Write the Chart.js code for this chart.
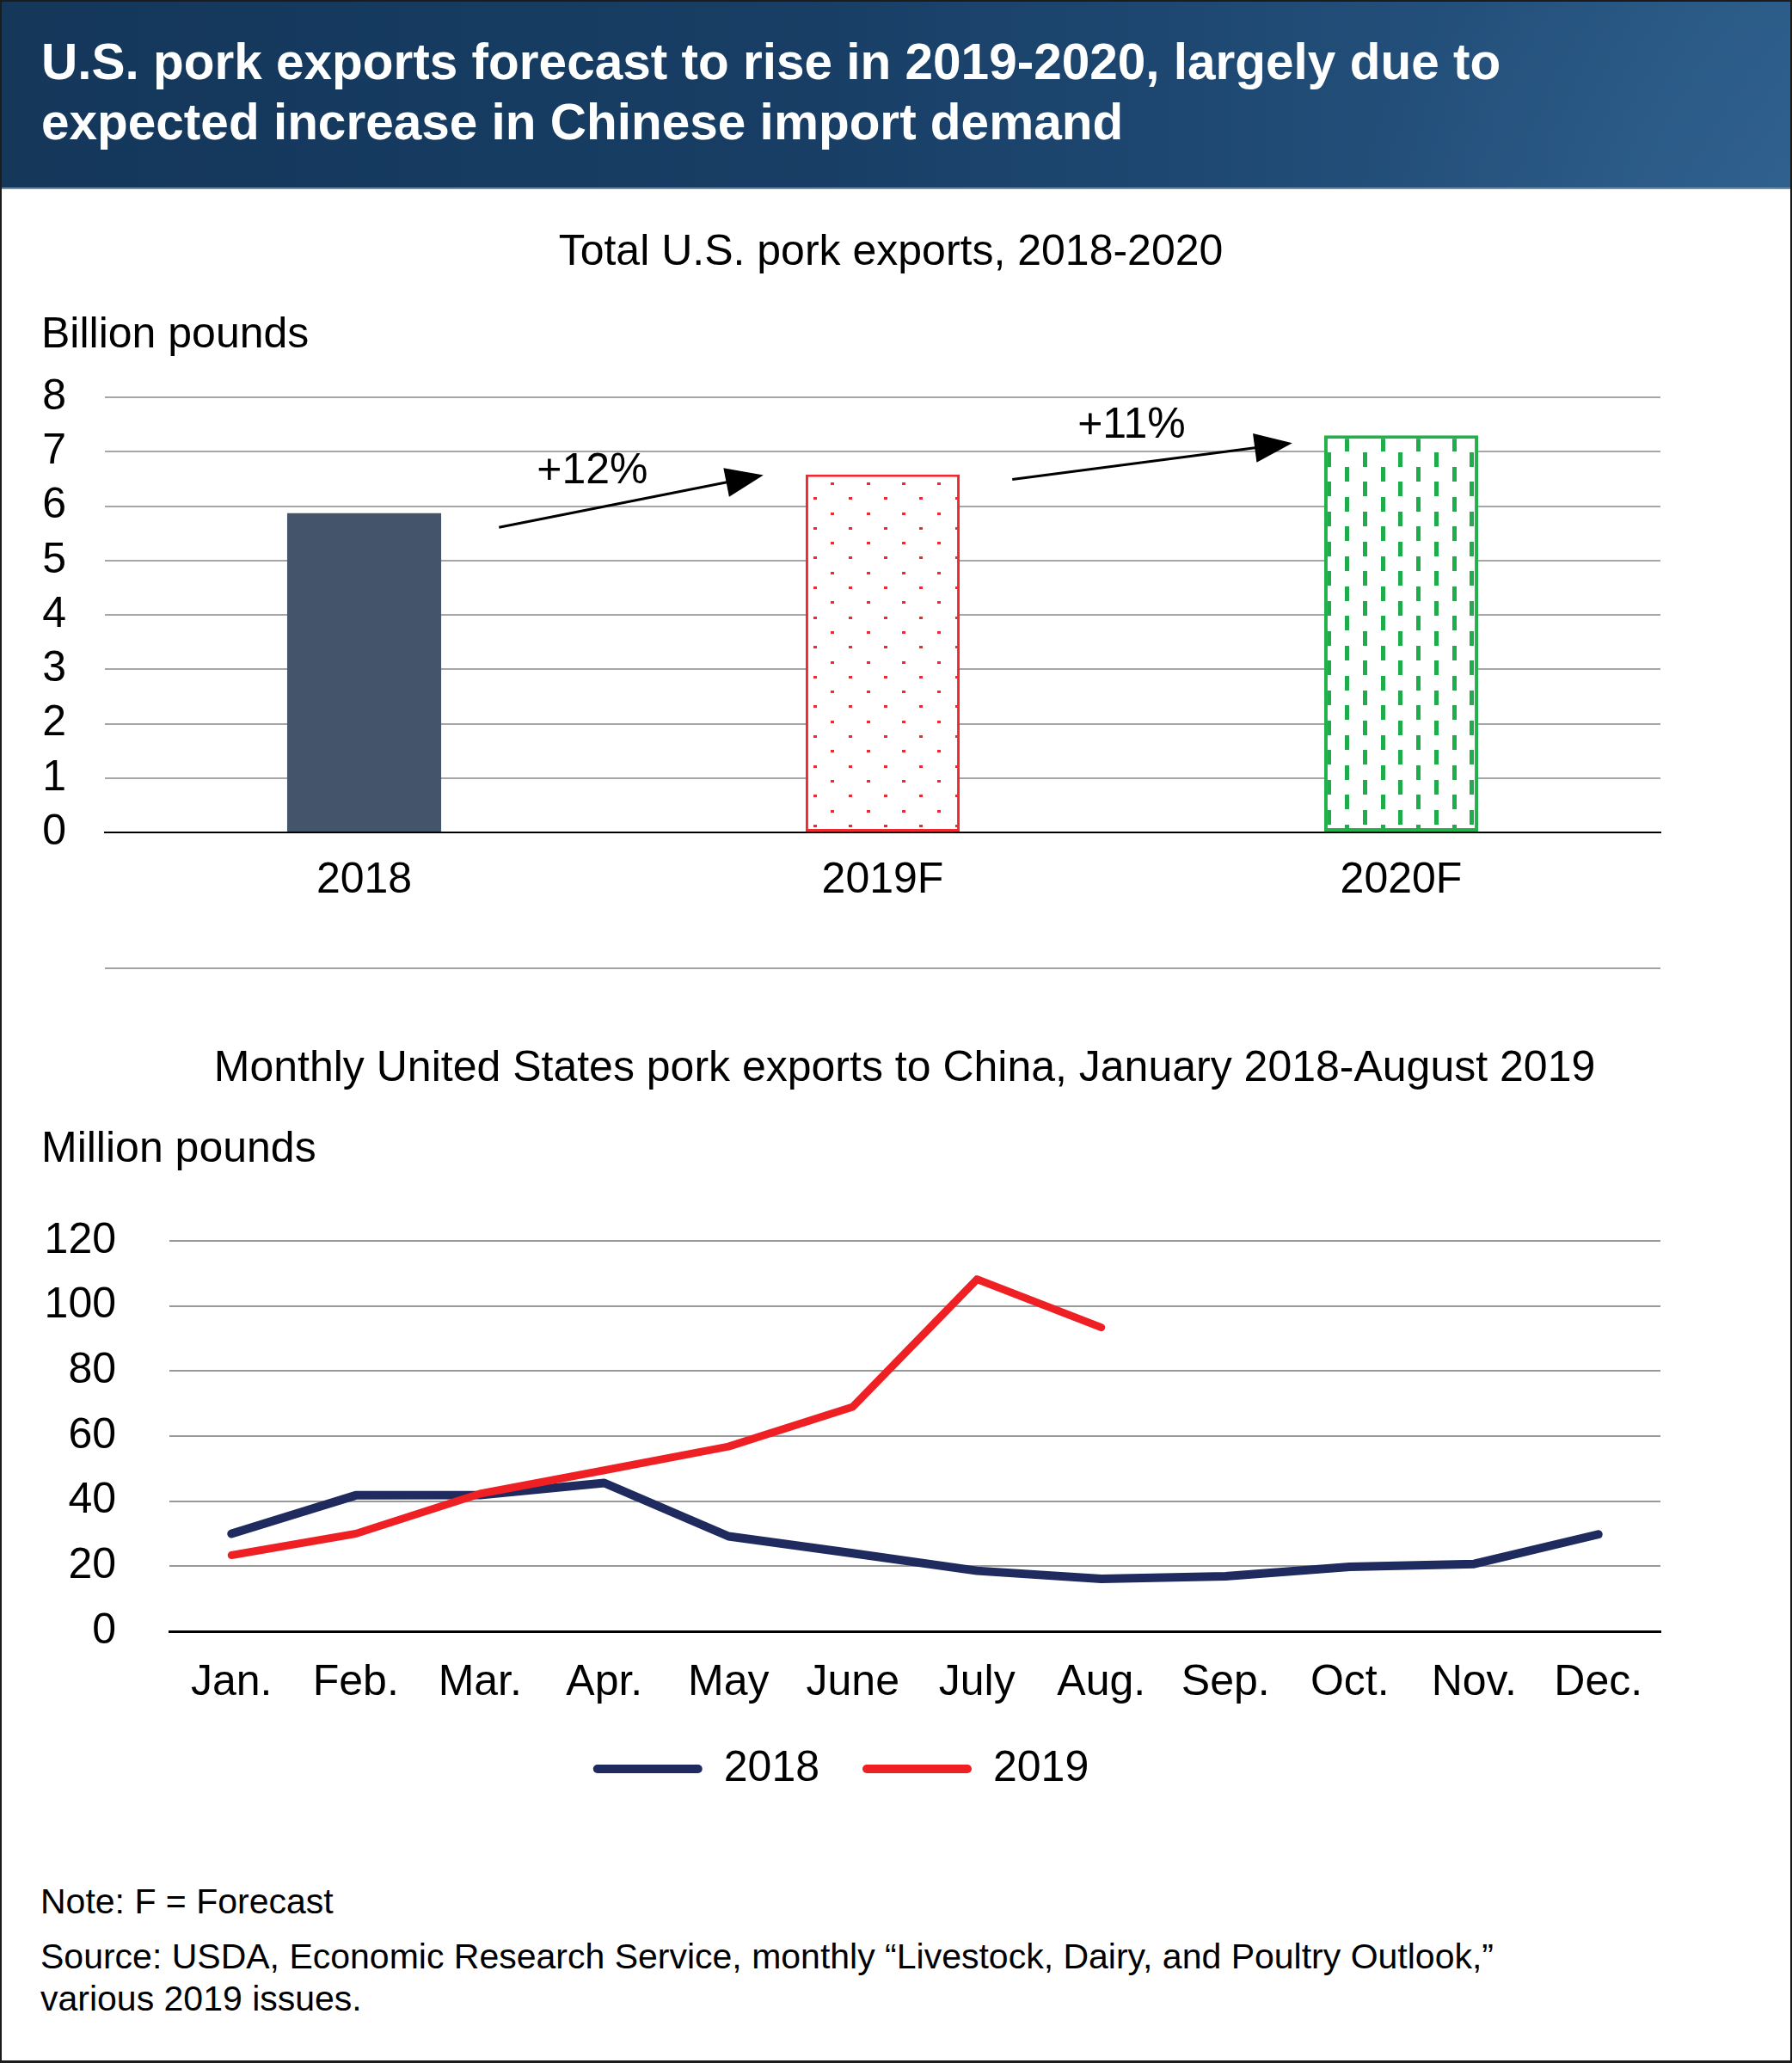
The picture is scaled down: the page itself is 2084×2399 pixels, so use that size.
<!DOCTYPE html>
<html>
<head>
<meta charset="utf-8">
<title>U.S. pork exports</title>
<script src="https://cdn.jsdelivr.net/npm/chart.js@4.4.1/dist/chart.umd.min.js"></script>
<style>
  html, body { margin: 0; padding: 0; background: #fff; }
  #page {
    position: relative; width: 2084px; height: 2399px; overflow: hidden;
    font-family: "Liberation Sans", Arial, Helvetica, sans-serif; color: #000;
  }
  #frame {
    position: absolute; left: 0; top: 0; width: 2084px; height: 2399px;
    box-sizing: border-box; border: 2px solid #1c1c1c; border-bottom-width: 3px;
    pointer-events: none; z-index: 10;
  }
  #header {
    position: absolute; left: 0; top: 0; width: 2084px; height: 218px;
    background:
      radial-gradient(ellipse 820px 620px at 2150px 330px, rgba(70,120,170,0.30), rgba(70,120,170,0) 75%),
      linear-gradient(90deg, #14375a 0%, #183e65 45%, #1f4a74 70%, #2a5a86 100%);
    border-bottom: 2px solid #6f8fb0;
  }
  #header div {
    position: absolute; left: 48px; color: #fff; font-weight: bold;
    font-size: 58.5px; line-height: 70px; white-space: nowrap;
  }
  .txt { position: absolute; white-space: nowrap; font-size: 50px; line-height: 60px; }
  .center { transform: translateX(-50%); }
  .note { position: absolute; left: 47px; white-space: nowrap; font-size: 41px; line-height: 49px; }
  #sep { position: absolute; left: 122px; top: 1125px; width: 1809px; height: 2px; background: #a3a3a3; }
  canvas { position: absolute; left: 0; }
</style>
</head>
<body>
<div id="page">
  <div id="header">
    <div style="top:37px">U.S. pork exports forecast to rise in 2019-2020, largely due to</div>
    <div style="top:107px">expected increase in Chinese import demand</div>
  </div>

  <div class="txt center" style="left:1036px; top:261px">Total U.S. pork exports, 2018-2020</div>
  <div class="txt" style="left:48px; top:357px">Billion pounds</div>
  <canvas id="barChart" width="2084" height="630" style="top:420px; width:2084px; height:630px"></canvas>

  <div id="sep"></div>

  <div class="txt center" style="left:1052px; top:1210px">Monthly United States pork exports to China, January 2018-August 2019</div>
  <div class="txt" style="left:48px; top:1304px">Million pounds</div>
  <canvas id="lineChart" width="1956" height="692" style="top:1400px; width:1956px; height:692px"></canvas>

  <div class="note" style="top:2187px">Note: F = Forecast</div>
  <div class="note" style="top:2251px">Source: USDA, Economic Research Service, monthly “Livestock, Dairy, and Poultry Outlook,”</div>
  <div class="note" style="top:2300px">various 2019 issues.</div>

  <div id="frame"></div>
</div>

<script>
// Total exports, billion pounds
const barCategories = ['2018', '2019F', '2020F'];
const barValues = [5.87, 6.58, 7.30];
const barTicks = [0, 1, 2, 3, 4, 5, 6, 7, 8];
const changeLabels = ['+12%', '+11%'];

// Monthly exports to China, million pounds
const monthLabels = ['Jan.', 'Feb.', 'Mar.', 'Apr.', 'May', 'June', 'July', 'Aug.', 'Sep.', 'Oct.', 'Nov.', 'Dec.'];
const exports2018 = [30.0, 41.8, 41.9, 45.6, 29.2, 24.0, 18.6, 16.1, 16.9, 19.8, 20.7, 29.8];
const exports2019 = [23.4, 30.0, 42.3, 49.5, 56.8, 69.0, 108.2, 93.4];
const lineTicks = [0, 20, 40, 60, 80, 100, 120];

// arrow annotations, in category-index / value units of the bar chart
const arrowSpecs = [
  { from: [0.26, 5.61], to: [0.77, 6.57], label: [0.44, 6.64] },
  { from: [1.25, 6.49], to: [1.79, 7.16], label: [1.48, 7.48] }
];

const FONT = '"Liberation Sans", Arial, Helvetica, sans-serif';
Chart.defaults.font.family = FONT;
Chart.defaults.font.size = 50;
Chart.defaults.color = '#000';

// staggered fill pattern (two marks per period cell)
function staggerPattern(px, py, repsX, repsY, markW, markH, ax, ay, color) {
  const w = Math.round(px * repsX), h = Math.round(py * repsY);
  const c = document.createElement('canvas');
  c.width = w; c.height = h;
  const g = c.getContext('2d');
  g.fillStyle = '#fff';
  g.fillRect(0, 0, w, h);
  g.fillStyle = color;
  for (let i = -1; i <= repsX; i++) {
    for (let j = -1; j <= repsY; j++) {
      [[0, 0], [0.5, 0.5]].forEach(([ox, oy]) => {
        const cx = ax + (i + ox) * px, cy = ay + (j + oy) * py;
        g.fillRect(Math.round(cx - markW / 2), Math.round(cy - markH / 2), markW, markH);
      });
    }
  }
  return g.createPattern(c, 'repeat');
}

const dotFill = staggerPattern(41.2, 34.6, 5, 5, 4, 3, 0.1, 21.3, '#ee2a2f');
const dashFill = staggerPattern(41.5, 34.67, 2, 3, 5, 17, 10.3, 10.3, '#1fad4b');

// fixed axis sizes so the plot areas land where the original has them
function fixY(width) {
  return (scale) => { scale.width = width; scale.paddingTop = 0; scale.paddingBottom = 0; };
}
function fixX(height) {
  return (scale) => { scale.height = height; scale.paddingLeft = 0; scale.paddingRight = 0; };
}

const arrowPlugin = {
  id: 'changeArrows',
  afterDatasetsDraw(chart) {
    const { ctx, scales: { x, y } } = chart;
    ctx.save();
    ctx.strokeStyle = '#000';
    ctx.fillStyle = '#000';
    ctx.lineWidth = 3;
    arrowSpecs.forEach((a, i) => {
      const x0 = x.getPixelForValue(a.from[0]), y0 = y.getPixelForValue(a.from[1]);
      const x1 = x.getPixelForValue(a.to[0]), y1 = y.getPixelForValue(a.to[1]);
      const ang = Math.atan2(y1 - y0, x1 - x0);
      const headLen = 44, headHalf = 17;
      const bx = x1 - headLen * Math.cos(ang), by = y1 - headLen * Math.sin(ang);
      ctx.beginPath();
      ctx.moveTo(x0, y0);
      ctx.lineTo(bx + 2 * Math.cos(ang), by + 2 * Math.sin(ang));
      ctx.stroke();
      ctx.beginPath();
      ctx.moveTo(x1, y1);
      ctx.lineTo(bx + headHalf * Math.sin(ang), by - headHalf * Math.cos(ang));
      ctx.lineTo(bx - headHalf * Math.sin(ang), by + headHalf * Math.cos(ang));
      ctx.closePath();
      ctx.fill();

      ctx.font = '50px ' + FONT;
      ctx.textAlign = 'center';
      ctx.textBaseline = 'middle';
      ctx.fillText(changeLabels[i], x.getPixelForValue(a.label[0]), y.getPixelForValue(a.label[1]));
    });
    ctx.restore();
  }
};

new Chart(document.getElementById('barChart'), {
  type: 'bar',
  data: {
    labels: barCategories,
    datasets: [{
      data: barValues,
      backgroundColor: ['#44546a', dotFill, dashFill],
      borderColor: ['#44546a', '#ee2a2f', '#22b04b'],
      borderWidth: [0, 3, 4],
      borderSkipped: false,
      barPercentage: 0.297,
      categoryPercentage: 1
    }]
  },
  options: {
    responsive: false,
    animation: false,
    layout: { padding: { top: 42, right: 153, left: 0, bottom: 0 } },
    plugins: { legend: { display: false }, tooltip: { enabled: false } },
    scales: {
      x: {
        z: 1,
        grid: { display: false, drawTicks: false },
        border: { display: true, color: '#000', width: 2 },
        ticks: { padding: 26, font: { size: 50 }, maxRotation: 0 },
        afterFit: fixX(82)
      },
      y: {
        min: barTicks[0],
        max: barTicks[barTicks.length - 1],
        ticks: { stepSize: barTicks[1] - barTicks[0], padding: 45, autoSkip: false, font: { size: 50 } },
        grid: {
          drawTicks: false,
          color: (c) => c.tick && c.tick.value === 0 ? 'rgba(0,0,0,0)' : '#a6a6a6',
          lineWidth: 2
        },
        border: { display: false },
        afterFit: fixY(122)
      }
    }
  },
  plugins: [arrowPlugin]
});

new Chart(document.getElementById('lineChart'), {
  type: 'line',
  data: {
    labels: monthLabels,
    datasets: [
      {
        label: '2018',
        data: exports2018,
        borderColor: '#1f2a5e',
        backgroundColor: '#1f2a5e',
        borderWidth: 10,
        order: 1
      },
      {
        label: '2019',
        data: exports2019,
        borderColor: '#ee2024',
        backgroundColor: '#ee2024',
        borderWidth: 9,
        order: 0
      }
    ]
  },
  options: {
    responsive: false,
    animation: false,
    layout: { padding: { top: 43, right: 25, left: 25, bottom: 0 } },
    elements: {
      point: { radius: 0, hoverRadius: 0 },
      line: { tension: 0, borderCapStyle: 'round', borderJoinStyle: 'round', fill: false }
    },
    plugins: {
      tooltip: { enabled: false },
      legend: {
        position: 'bottom',
        labels: {
          boxWidth: 127,
          boxHeight: 10,
          padding: 50,
          useBorderRadius: true,
          borderRadius: 5,
          font: { size: 50 },
          color: '#000',
          generateLabels: (chart) => chart.data.datasets.map((ds, i) => ({
            text: ds.label,
            fillStyle: ds.borderColor,
            strokeStyle: ds.borderColor,
            lineWidth: 0,
            borderRadius: 5,
            hidden: false,
            datasetIndex: i,
            fontColor: '#000'
          }))
        }
      }
    },
    scales: {
      x: {
        offset: true,
        z: 1,
        grid: { display: false, drawTicks: false },
        border: { display: true, color: '#000', width: 3 },
        ticks: { padding: 30, font: { size: 50 }, maxRotation: 0, autoSkip: false },
        afterFit: fixX(85)
      },
      y: {
        min: lineTicks[0],
        max: lineTicks[lineTicks.length - 1],
        ticks: { stepSize: lineTicks[1] - lineTicks[0], padding: 62, autoSkip: false, font: { size: 50 } },
        grid: {
          drawTicks: false,
          color: (c) => c.tick && c.tick.value === 0 ? 'rgba(0,0,0,0)' : '#999999',
          lineWidth: 2
        },
        border: { display: false },
        afterFit: fixY(172)
      }
    }
  }
});
</script>
</body>
</html>
